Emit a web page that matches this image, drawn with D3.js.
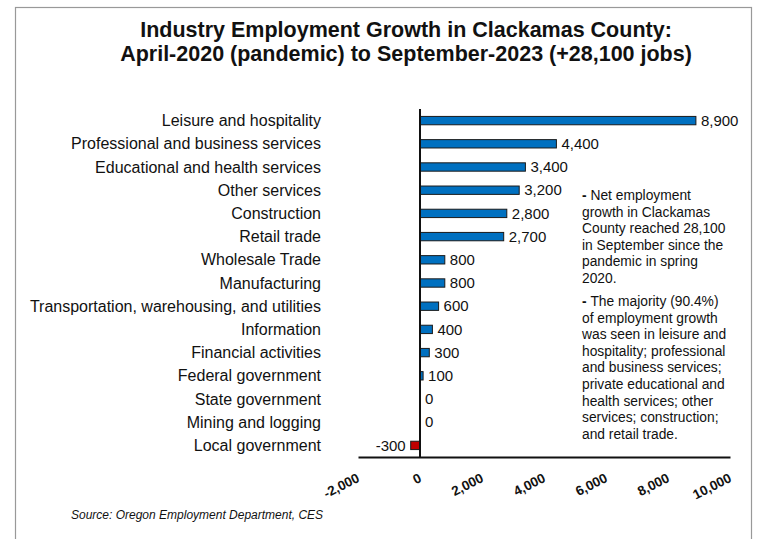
<!DOCTYPE html>
<html><head><meta charset="utf-8">
<script src="https://cdn.jsdelivr.net/npm/d3@7"></script>
<style>body{margin:0;background:#fff;}svg{display:block;font-family:"Liberation Sans",Arial,sans-serif;}</style>
</head><body>
<svg id="c" width="759" height="539"></svg>
<script>
const categories = ["Leisure and hospitality","Professional and business services","Educational and health services","Other services","Construction","Retail trade","Wholesale Trade","Manufacturing","Transportation, warehousing, and utilities","Information","Financial activities","Federal government","State government","Mining and logging","Local government"];
const values = [8900,4400,3400,3200,2800,2700,800,800,600,400,300,100,0,0,-300];
const tickValues = [-2000,0,2000,4000,6000,8000,10000];
const titleLines = ["Industry Employment Growth in Clackamas County:","April-2020 (pandemic) to September-2023 (+28,100 jobs)"];
const note1 = ["Net employment","growth in Clackamas","County reached 28,100","in September since the","pandemic in spring","2020."];
const note2 = ["The majority (90.4%)","of employment growth","was seen in leisure and","hospitality; professional","and business services;","private educational and","health services; other","services; construction;","and retail trade."];
const source = "Source: Oregon Employment Department, CES";

const fmt = d => d3.format(",")(d).replace("\u2212","-");
const svg = d3.select("#c");
svg.append("rect").attr("x",15.5).attr("y",7.5).attr("width",736).attr("height",540)
  .attr("fill","#fff").attr("stroke","#999").attr("stroke-width",1.2);

const t = svg.append("text").attr("text-anchor","middle").attr("font-weight","bold").attr("font-size",21.5).attr("fill","#111");
titleLines.forEach((l,i)=>t.append("tspan").attr("x",406).attr("y",37+i*24).text(l));

const x = d3.scaleLinear().domain([-2000,10000]).range([358,730]);
const y = d3.scaleBand().domain(categories).range([109,457]).paddingInner(0.64).paddingOuter(0.32);

// bars
svg.append("g").selectAll("rect").data(values).join("rect")
  .attr("x",d=>x(Math.min(0,d))).attr("y",(d,i)=>y(categories[i]))
  .attr("width",d=>Math.abs(x(d)-x(0))).attr("height",y.bandwidth())
  .attr("fill",d=>d<0?"#C00000":"#0070C0").attr("stroke","#1a1a1a").attr("stroke-width",1);

// value labels
svg.append("g").selectAll("text").data(values).join("text")
  .attr("x",d=>d<0? x(d)-5 : x(d)+5)
  .attr("y",(d,i)=>y(categories[i])+y.bandwidth()/2)
  .attr("dy","0.35em").attr("text-anchor",d=>d<0?"end":"start")
  .attr("font-size",15).attr("fill","#111")
  .text(fmt);

// category labels
svg.append("g").selectAll("text").data(categories).join("text")
  .attr("x",321).attr("y",d=>y(d)+y.bandwidth()/2).attr("dy","0.35em")
  .attr("text-anchor","end").attr("font-size",16).attr("fill","#111").text(d=>d);

// axes
const xa = svg.append("g").attr("transform","translate(0,457)")
  .call(d3.axisBottom(x).tickValues(tickValues).tickSize(0).tickFormat(fmt));
xa.select(".domain").attr("stroke","#111").attr("stroke-width",2);
xa.selectAll("text").attr("font-size",13.5).attr("font-weight","bold").attr("fill","#111")
  .attr("font-family","Liberation Sans, Arial, sans-serif")
  .attr("text-anchor","end").attr("transform","translate(2,24) rotate(-27)").attr("dy",0).attr("y",0);
svg.append("line").attr("x1",x(0)).attr("x2",x(0)).attr("y1",109).attr("y2",458)
  .attr("stroke","#111").attr("stroke-width",2);

// notes
function note(lines, y0){
  const g = svg.append("text").attr("font-size",13.8).attr("fill","#111");
  lines.forEach((l,i)=>{
    const ts = g.append("tspan").attr("x",582).attr("y",y0+i*16.6);
    if(i===0){ ts.append("tspan").attr("font-weight","bold").text("- "); ts.append("tspan").text(l); }
    else ts.text(l);
  });
}
note(note1,200);
note(note2,306);

svg.append("text").attr("x",71).attr("y",519).attr("font-size",12).attr("font-style","italic")
  .attr("fill","#111").text(source);
</script>
</body></html>
